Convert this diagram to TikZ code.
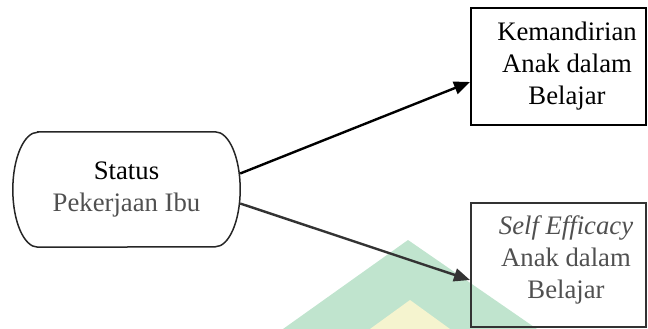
\documentclass[tikz,border=0pt]{standalone}
\usepackage{fontspec}
\setmainfont{Liberation Serif}
\usetikzlibrary{arrows.meta,calc}
\definecolor{wmgreen}{HTML}{C0E4CE}
\definecolor{wmyellow}{HTML}{F5F4CF}
\definecolor{txtgray}{HTML}{505050}
\definecolor{dgray}{HTML}{333333}
\begin{document}
\begin{tikzpicture}[x=1pt,y=1pt,
  lbl/.style={align=center,inner sep=0pt,font=\fontsize{26.7}{32}\selectfont},
  boxk/.style={draw=black,line width=2pt,minimum width=175pt,minimum height=117pt,inner sep=0pt},
  boxs/.style={draw=dgray,line width=2pt,minimum width=175pt,minimum height=124pt,inner sep=0pt},
  arr/.style={line width=2.4pt,-{Triangle[length=16pt,width=13pt]}}]
\useasboundingbox (0,0) rectangle (648,-329);
% watermark
\fill[wmgreen] (408,-240) -- (537,-329) -- (283,-329) -- cycle;
\fill[wmyellow] (410,-300) -- (450,-329) -- (370,-329) -- cycle;
% oval
\node[minimum width=227pt,minimum height=115pt,inner sep=0pt] (oval) at (126.5,-189.5) {};
\draw[line width=1.5pt,draw=black!85]
  ($(oval.north west)+(25,0)$) -- ($(oval.north east)+(-25,0)$)
  arc[start angle=90,end angle=-90,x radius=25,y radius=57.5]
  -- ($(oval.south west)+(25,0)$)
  arc[start angle=270,end angle=90,x radius=25,y radius=57.5] -- cycle;
\node[lbl] (ovt) at (126.5,-190) {Status\\\textcolor{txtgray}{Pekerjaan Ibu}};
% boxes
\node[boxk] (k) at (558.5,-66.5) {};
\node[lbl] (kt) at (567,-66) {Kemandirian\\Anak dalam\\Belajar};
\node[boxs] (s) at (558.5,-265) {};
\node[lbl,text=txtgray] (st) at (566,-259.5) {\textit{Self Efficacy}\\Anak dalam\\Belajar};
% arrows
\draw[arr,black] ([yshift=16pt]oval.east) -- ([yshift=-15.5pt]k.west);
\draw[arr,dgray] ([yshift=-14pt]oval.east) -- ([yshift=-15pt]s.west);
\end{tikzpicture}
\end{document}
